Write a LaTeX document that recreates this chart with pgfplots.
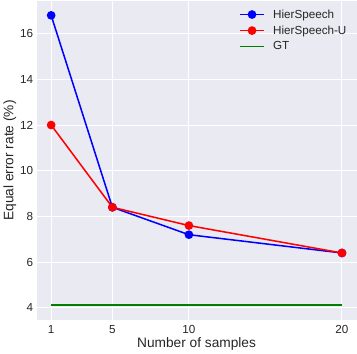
\documentclass[border=0pt]{standalone}
\usepackage{pgfplots}
\pgfplotsset{compat=1.18}
\usepackage{fontspec}
\setmainfont{Liberation Sans}
\definecolor{bgc}{HTML}{EAEAF2}
\definecolor{txt}{HTML}{262626}
\definecolor{gtgreen}{HTML}{008000}
\begin{document}
\begin{tikzpicture}[x=1bp,y=1bp]
\begin{axis}[
  scale only axis,
  width=315bp, height=315bp,
  xmin=0.05, xmax=20.95,
  ymin=3.45, ymax=17.45,
  xtick={1,5,10,20},
  ytick={4,6,8,10,12,14,16},
  axis background/.style={fill=bgc},
  axis line style={draw=none},
  major tick length=0pt,
  grid=major,
  major grid style={white, line width=1bp},
  tick label style={font=\fontsize{11.5bp}{13bp}\selectfont, text=txt},
  label style={font=\fontsize{13.5bp}{16bp}\selectfont, text=txt},
  /pgf/number format/assume math mode=true,
  xticklabel style={yshift=-1bp},
  xlabel={Number of samples},
  ylabel={Equal error rate (\%)},
  xlabel style={yshift=3bp},
  ylabel style={yshift=-3bp},
  legend style={draw=none, fill=none, at={(0.985,0.985)}, anchor=north east,
    font=\fontsize{11.5bp}{14bp}\selectfont, text=txt, row sep=2bp, column sep=6bp},
  legend cell align=left,
  legend image code/.code={%
    \draw[mark repeat=2,mark phase=2,#1] plot coordinates {(0bp,0bp) (12bp,0bp) (24bp,0bp)};},
]
\addplot[blue, line width=1.5bp, mark=*, mark size=3.5bp, mark options={solid, fill=blue}] coordinates {(1,16.8) (5,8.4) (10,7.2) (20,6.4)};
\addlegendentry{HierSpeech}
\addplot[red, line width=1.5bp, mark=*, mark size=3.5bp, mark options={solid, fill=red}] coordinates {(1,12.0) (5,8.4) (10,7.6) (20,6.4)};
\addlegendentry{HierSpeech-U}
\addplot[gtgreen, line width=1.5bp] coordinates {(1,4.13) (20,4.13)};
\addlegendentry{GT}
\end{axis}
\end{tikzpicture}
\end{document}
